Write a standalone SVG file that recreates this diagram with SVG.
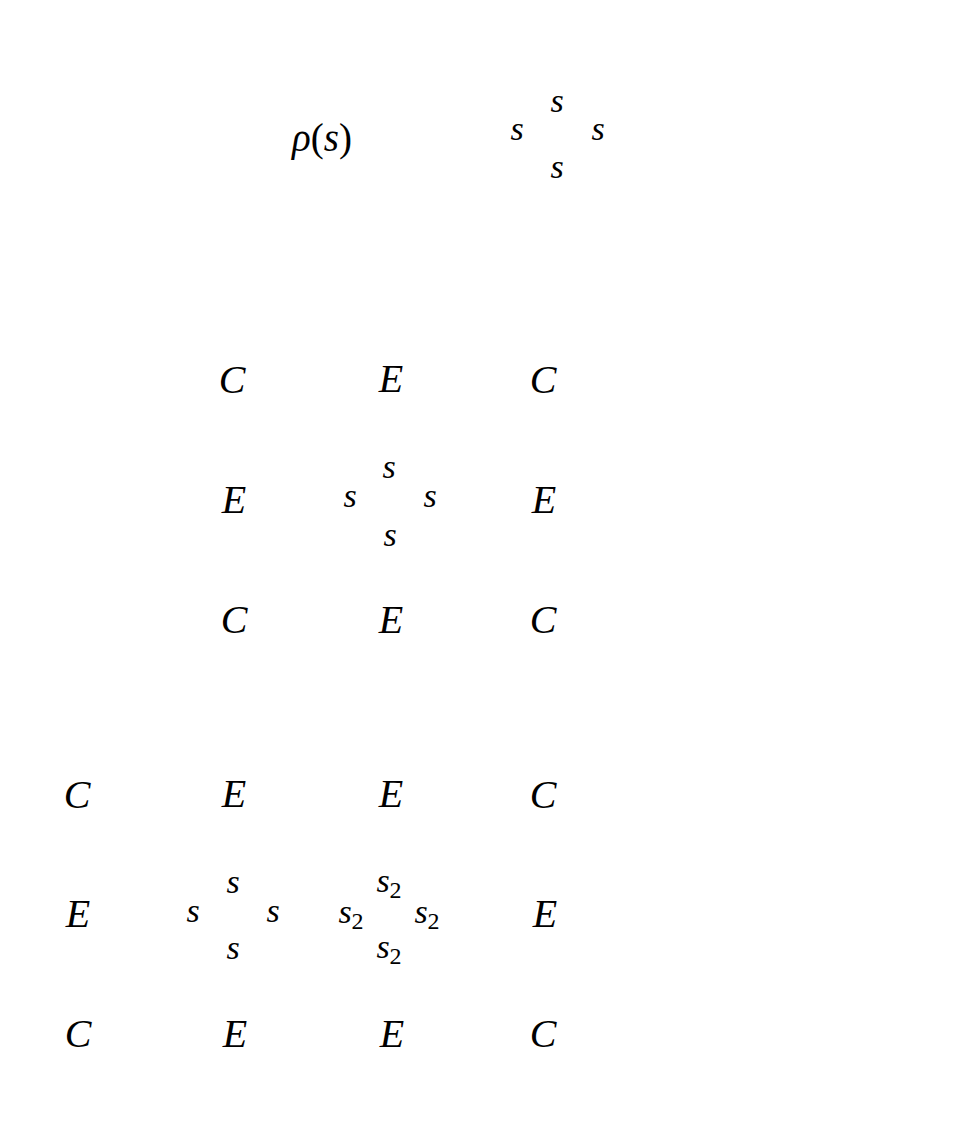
<svg xmlns="http://www.w3.org/2000/svg" width="956" height="1121" viewBox="0 0 956 1121">
<style>
text{font-family:"Liberation Serif","DejaVu Serif",serif;font-style:italic;fill:#000;text-anchor:middle}
.L{font-size:40px}
.s{font-size:34px}
.r{font-size:39px}
.sub{font-style:normal;font-size:24px}
.up{font-style:normal}
</style>
<rect width="956" height="1121" fill="#fff"/>
<g id="top">
<g id="rho"><text class="r" x="322" y="151">ρ<tspan class="up">(</tspan>s<tspan class="up">)</tspan></text></g>
<g id="topcross">
<text class="s" x="557" y="112">s</text>
<text class="s" x="517" y="140">s</text>
<text class="s" x="598" y="140">s</text>
<text class="s" x="557" y="178">s</text>
</g>
</g>
<g id="mid">
<g id="m-c1"><text class="L" x="232" y="393">C</text></g>
<g id="m-e1"><text class="L" x="391" y="392">E</text></g>
<g id="m-c2"><text class="L" x="543" y="393">C</text></g>
<g id="m-e2"><text class="L" x="234" y="513">E</text></g>
<g id="m-e3"><text class="L" x="544" y="513">E</text></g>
<g id="m-c3"><text class="L" x="234" y="633">C</text></g>
<g id="m-e4"><text class="L" x="391" y="633">E</text></g>
<g id="m-c4"><text class="L" x="543" y="633">C</text></g>
<g id="m-cross">
<text class="s" x="389" y="478">s</text>
<text class="s" x="350" y="507">s</text>
<text class="s" x="430" y="507">s</text>
<text class="s" x="390" y="546">s</text>
</g>
</g>
<g id="bot">
<g id="b-c1"><text class="L" x="77" y="808">C</text></g>
<g id="b-e1"><text class="L" x="234" y="807">E</text></g>
<g id="b-e2"><text class="L" x="391" y="807">E</text></g>
<g id="b-c2"><text class="L" x="543" y="808">C</text></g>
<g id="b-e3"><text class="L" x="78" y="927">E</text></g>
<g id="b-e4"><text class="L" x="545" y="927">E</text></g>
<g id="b-c3"><text class="L" x="78" y="1047">C</text></g>
<g id="b-e5"><text class="L" x="235" y="1047">E</text></g>
<g id="b-e6"><text class="L" x="392" y="1047">E</text></g>
<g id="b-c4"><text class="L" x="543" y="1047">C</text></g>
<g id="b-cross1">
<text class="s" x="233" y="893">s</text>
<text class="s" x="193" y="922">s</text>
<text class="s" x="273" y="922">s</text>
<text class="s" x="233" y="959">s</text>
</g>
<g id="b-cross2">
<text class="s" x="389" y="892">s<tspan class="sub" dy="6">2</tspan></text>
<text class="s" x="351" y="923">s<tspan class="sub" dy="6">2</tspan></text>
<text class="s" x="427" y="923">s<tspan class="sub" dy="6">2</tspan></text>
<text class="s" x="389" y="958">s<tspan class="sub" dy="6">2</tspan></text>
</g>
</g>
<g id="connectors"></g>
</svg>
